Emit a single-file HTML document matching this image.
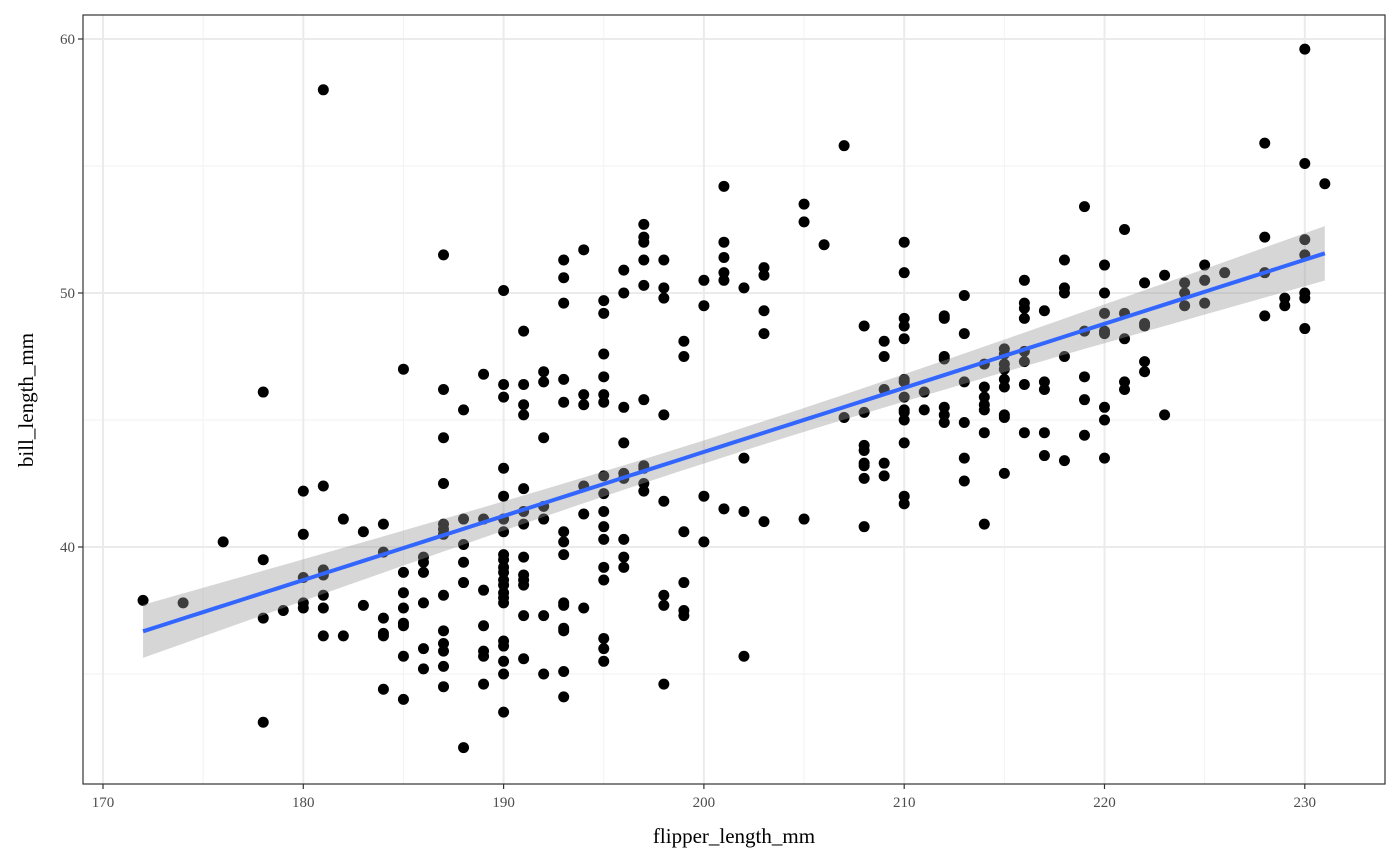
<!DOCTYPE html>
<html><head><meta charset="utf-8"><style>
html,body{margin:0;padding:0;background:#fff;}
svg{display:block;font-family:"Liberation Serif",serif;}
</style></head><body>
<svg id="chart" width="1400" height="865" viewBox="0 0 1400 865">
<rect x="0" y="0" width="1400" height="865" fill="#fff"/>
<g id="grid"></g>
<g id="points"></g>
<g id="fit"></g>
<rect x="83" y="15" width="1302" height="769" fill="none" stroke="#333" stroke-width="1.2"/>
<g id="axes"></g>
<text x="734" y="843" font-size="21" text-anchor="middle" fill="#000">flipper_length_mm</text>
<text transform="translate(33,400) rotate(-90)" font-size="21" text-anchor="middle" fill="#000">bill_length_mm</text>
</svg>
<script>
const xTicks = [170,180,190,200,210,220,230];
const yTicks = [40,50,60];
const xMinor = [175,185,195,205,215,225];
const yMinor = [35,45,55];
const columns = [
[172,[37.9]],[174,[37.8]],[176,[40.2]],
[178,[46.1,39.5,37.2,33.1]],[179,[37.5]],
[180,[42.2,40.5,38.8,37.8,37.6]],
[181,[58.0,42.4,39.1,38.9,38.1,37.6,36.5]],
[182,[41.1,36.5]],[183,[40.6,37.7]],
[184,[40.9,39.8,37.2,36.6,36.5,34.4]],
[185,[47.0,39.0,38.2,37.6,37.0,36.9,35.7,34.0]],
[186,[39.6,39.4,39.0,37.8,36.0,35.2]],
[187,[51.5,46.2,44.3,42.5,40.9,40.7,40.5,38.1,36.7,36.2,35.9,35.3,34.5]],
[188,[45.4,41.1,40.1,39.4,38.6,32.1]],
[189,[46.8,41.1,38.3,36.9,35.9,35.7,34.6]],
[190,[50.1,46.4,45.9,43.1,42.0,41.1,40.6,39.7,39.5,39.2,39.0,38.7,38.5,38.2,38.0,37.8,36.3,36.1,35.5,35.0,33.5]],
[191,[48.5,46.4,45.6,45.2,42.3,41.4,40.9,39.6,38.9,38.7,38.5,37.3,35.6]],
[192,[46.9,46.5,44.3,41.6,41.1,37.3,35.0]],
[193,[51.3,50.6,49.6,46.6,45.7,40.6,40.2,39.7,37.8,37.7,36.8,36.7,35.1,34.1]],
[194,[51.7,46.0,45.6,42.4,41.3,37.6]],
[195,[49.7,49.2,47.6,46.7,46.0,45.7,42.8,42.1,41.4,40.8,40.3,39.2,38.7,36.4,36.0,35.5]],
[196,[50.9,50.0,45.5,44.1,42.9,42.7,40.3,39.6,39.2]],
[197,[52.7,52.2,52.0,51.3,50.3,45.8,43.2,43.1,42.5,42.2]],
[198,[51.3,50.2,49.8,45.2,41.8,38.1,37.7,34.6]],
[199,[48.1,47.5,40.6,38.6,37.5,37.3]],
[200,[50.5,49.5,42.0,40.2]],
[201,[54.2,52.0,51.4,50.8,50.5,41.5]],
[202,[50.2,43.5,41.4,35.7]],
[203,[51.0,50.7,49.3,48.4,41.0]],
[205,[53.5,52.8,41.1]],[206,[51.9]],[207,[55.8,45.1]],
[208,[48.7,45.3,44.0,43.8,43.3,43.2,42.7,40.8]],
[209,[48.1,47.5,46.2,43.3,42.8]],
[210,[52.0,50.8,49.0,48.7,48.2,46.6,46.5,45.9,45.4,45.3,45.0,44.1,42.0,41.7]],
[211,[46.1,45.4]],
[212,[49.1,49.0,47.5,47.4,45.5,45.2,44.9]],
[213,[49.9,48.4,46.5,44.9,43.5,42.6]],
[214,[47.2,46.3,45.9,45.6,45.4,44.5,40.9]],
[215,[47.8,47.6,47.2,47.0,46.6,46.3,45.2,45.1,42.9]],
[216,[50.5,49.6,49.4,49.0,47.7,47.3,46.4,44.5]],
[217,[49.3,46.5,46.2,44.5,43.6]],
[218,[51.3,50.2,50.0,47.5,43.4]],
[219,[53.4,48.5,46.7,45.8,44.4]],
[220,[51.1,50.0,49.2,48.5,48.4,45.5,45.0,43.5]],
[221,[52.5,49.2,48.2,46.5,46.2]],
[222,[50.4,48.8,48.7,47.3,46.9]],
[223,[50.7,45.2]],[224,[50.4,50.0,49.5]],[225,[51.1,50.5,49.6]],[226,[50.8]],
[228,[55.9,52.2,50.8,49.1]],[229,[49.8,49.5]],
[230,[59.6,55.1,52.1,51.5,50.0,49.8,48.6]],[231,[54.3]]
];
const flipper = [];
const bill = [];
columns.forEach(c => c[1].forEach(b => { flipper.push(c[0]); bill.push(b); }));

const NS = "http://www.w3.org/2000/svg";
const X = v => 103 + (v - 170) * 20.03;
const Y = v => 547 - (v - 40) * 25.4;
const L = 83, R = 1385, T = 15, B = 784;
function mk(tag, attrs, parent) {
  const e = document.createElementNS(NS, tag);
  for (const k in attrs) e.setAttribute(k, attrs[k]);
  parent.appendChild(e);
  return e;
}
const grid = document.getElementById('grid');
xMinor.forEach(v => {
  const e = mk('line', {x1: X(v), x2: X(v), y1: T, y2: B, stroke: '#f2f2f2', 'stroke-width': 1}, grid);
  
  
});
yMinor.forEach(v => {
  const e = mk('line', {x1: L, x2: R, y1: Y(v), y2: Y(v), stroke: '#f2f2f2', 'stroke-width': 1}, grid);
  
  
});
xTicks.forEach(v => {
  const e = mk('line', {x1: X(v), x2: X(v), y1: T, y2: B, stroke: '#ebebeb', 'stroke-width': 2}, grid);
  
  
});
yTicks.forEach(v => {
  const e = mk('line', {x1: L, x2: R, y1: Y(v), y2: Y(v), stroke: '#ebebeb', 'stroke-width': 2}, grid);
  
  
});
const pts = document.getElementById('points');
for (let i = 0; i < flipper.length; i++) {
  const c = mk('circle', {cx: X(flipper[i]), cy: Y(bill[i]), r: 5.5, fill: '#000'}, pts);
  
  
}
// linear fit with 95% CI
const n = flipper.length;
const mx = flipper.reduce((a, b) => a + b, 0) / n;
const my = bill.reduce((a, b) => a + b, 0) / n;
let sxx = 0, sxy = 0;
for (let i = 0; i < n; i++) { sxx += (flipper[i] - mx) ** 2; sxy += (flipper[i] - mx) * (bill[i] - my); }
const slope = sxy / sxx, icpt = my - slope * mx;
let sse = 0;
for (let i = 0; i < n; i++) sse += (bill[i] - icpt - slope * flipper[i]) ** 2;
const s = Math.sqrt(sse / (n - 2));
const xmin = Math.min(...flipper), xmax = Math.max(...flipper);
const up = [], lo = [], mid = [];
for (let k = 0; k <= 80; k++) {
  const xv = xmin + (xmax - xmin) * k / 80;
  const yv = icpt + slope * xv;
  const se = s * Math.sqrt(1 / n + (xv - mx) ** 2 / sxx);
  up.push(X(xv) + ',' + Y(yv + 1.967 * se));
  lo.push(X(xv) + ',' + Y(yv - 1.967 * se));
  mid.push(X(xv) + ',' + Y(yv));
}
const fit = document.getElementById('fit');
const band = mk('polygon', {points: up.concat(lo.reverse()).join(' '), fill: '#999', 'fill-opacity': 0.4}, fit);


const line = mk('polyline', {points: mid.join(' '), fill: 'none', stroke: '#3366FF', 'stroke-width': 4}, fit);


// axes
const axes = document.getElementById('axes');
xTicks.forEach(v => {
  const t = mk('line', {x1: X(v), x2: X(v), y1: B, y2: B + 5, stroke: '#333', 'stroke-width': 1.2}, axes);
  
  
  const l = mk('text', {x: X(v), y: B + 23, 'font-size': 15, 'text-anchor': 'middle', fill: '#4d4d4d'}, axes);
  l.textContent = v;
  
  
});
yTicks.forEach(v => {
  const t = mk('line', {x1: L - 5, x2: L, y1: Y(v), y2: Y(v), stroke: '#333', 'stroke-width': 1.2}, axes);
  
  
  const l = mk('text', {x: L - 8, y: Y(v) + 5, 'font-size': 15, 'text-anchor': 'end', fill: '#4d4d4d'}, axes);
  l.textContent = v;
  
  
});
</script>
</body></html>
